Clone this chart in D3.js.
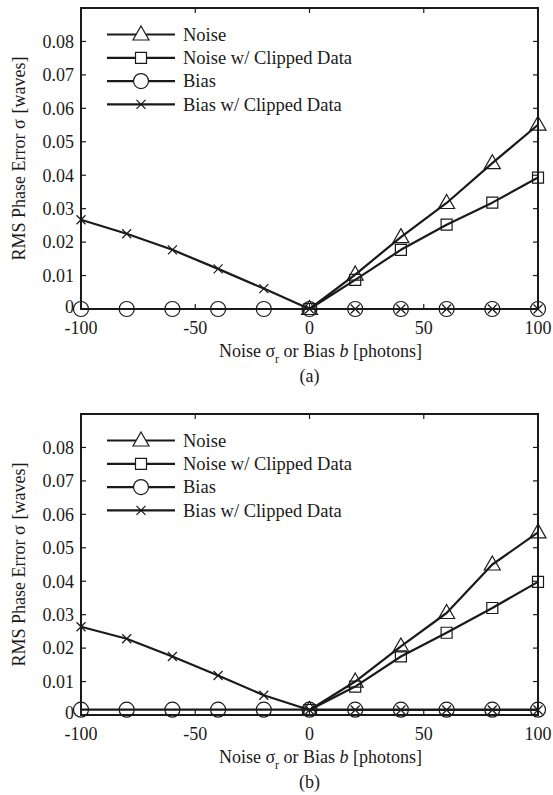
<!DOCTYPE html>
<meta charset="utf-8">
<head>
  <script src="https://cdn.jsdelivr.net/npm/d3@7"></script>
  <style>
    body { margin: 0; background: #fff; }
    svg text { font-family: "Liberation Serif", "Times New Roman", serif; fill: #1a1a1a; }
  </style>
</head>
<body>
<div id="viz"></div>
<script>
// x positions shared by every series
var xValues = [-100, -80, -60, -40, -20, 0, 20, 40, 60, 80, 100];
var xPositive = [0, 20, 40, 60, 80, 100];

// panel (a)
var noiseA = [0, 0.0103, 0.0215, 0.0317, 0.0436, 0.0551];
var noiseClipA = [0, 0.0087, 0.0177, 0.0252, 0.0318, 0.0393];
var biasA = [0, 0, 0, 0, 0, 0, 0, 0, 0, 0, 0];
var biasClipA = [0.0267, 0.0225, 0.0177, 0.0120, 0.0061, 0, 0, 0, 0, 0, 0];

// panel (b)
var noiseB = [0.0015, 0.0100, 0.0205, 0.0305, 0.0450, 0.0546];
var noiseClipB = [0.0015, 0.0085, 0.0175, 0.0246, 0.0320, 0.0398];
var biasB = [0.0016, 0.0016, 0.0016, 0.0016, 0.0016, 0.0016, 0.0016, 0.0016, 0.0016, 0.0016, 0.0016];
var biasClipB = [0.0264, 0.0228, 0.0175, 0.0118, 0.0059, 0.0015, 0.0015, 0.0015, 0.0015, 0.0015, 0.0015];

var seriesNames = ["Noise", "Noise w/ Clipped Data", "Bias", "Bias w/ Clipped Data"];
var markers = ["triangle", "square", "circle", "cross"];
var yTicks = [0, 0.01, 0.02, 0.03, 0.04, 0.05, 0.06, 0.07, 0.08];
var xTicks = [-100, -50, 0, 50, 100];

var config = { width: 553, height: 795 };
var ink = "#1a1a1a";

var svg = d3.select("#viz").append("svg")
  .attr("width", config.width)
  .attr("height", config.height);

// marker shapes drawn around (0,0)
function markerPath(type) {
  if (type == "triangle") return "M0,-8.5L8,5.5L-8,5.5Z";
  if (type == "square") return "M-5.5,-5.5H5.5V5.5H-5.5Z";
  if (type == "circle") return "M7.5,0A7.5,7.5 0 1,1 -7.5,0A7.5,7.5 0 1,1 7.5,0Z";
  return "M-4.5,-4.5L4.5,4.5M-4.5,4.5L4.5,-4.5";
}

function drawPanel(top, bottom, series, tag) {
  var g = svg.append("g");

  var x = d3.scaleLinear().domain([-100, 100]).range([81, 538]);
  var y = d3.scaleLinear().domain([0, 0.09]).range([bottom, top]);

  // ticks, pointing inwards on all four sides
  var tl = 5;
  yTicks.forEach(function(t) {
    if (t == 0) return;
    g.append("line").attr("x1", x(-100)).attr("x2", x(-100) + tl)
      .attr("y1", y(t)).attr("y2", y(t)).attr("stroke", ink).attr("stroke-width", 1.2);
    g.append("line").attr("x1", x(100)).attr("x2", x(100) - tl)
      .attr("y1", y(t)).attr("y2", y(t)).attr("stroke", ink).attr("stroke-width", 1.2);
  });
  xTicks.forEach(function(t) {
    if (t == -100 || t == 100) return;
    g.append("line").attr("x1", x(t)).attr("x2", x(t))
      .attr("y1", y(0.09)).attr("y2", y(0.09) + tl).attr("stroke", ink).attr("stroke-width", 1.2);
    g.append("line").attr("x1", x(t)).attr("x2", x(t))
      .attr("y1", y(0)).attr("y2", y(0) - tl).attr("stroke", ink).attr("stroke-width", 1.2);
  });

  // tick labels ("0" nudged up so it clears "-100")
  g.selectAll(".ylab").data(yTicks).enter().append("text")
    .attr("x", 74).attr("y", function(d) { return y(d); })
    .attr("dy", function(d) { return d == 0 ? "0.22em" : "0.35em"; })
    .attr("text-anchor", "end")
    .attr("font-size", 18)
    .text(function(d) { return d == 0 ? "0" : d3.format(".2f")(d); });

  g.selectAll(".xlab").data(xTicks).enter().append("text")
    .attr("x", function(d) { return x(d); }).attr("y", bottom + 25)
    .attr("text-anchor", "middle").attr("font-size", 18)
    .text(function(d) { return d; });

  // plot frame
  g.append("rect").attr("x", x(-100)).attr("y", y(0.09))
    .attr("width", x(100) - x(-100)).attr("height", y(0) - y(0.09))
    .attr("fill", "none").attr("stroke", ink).attr("stroke-width", 2);

  // series lines and markers
  var line = d3.line().x(function(d) { return x(d[0]); }).y(function(d) { return y(d[1]); });
  series.forEach(function(s, i) {
    var pts = s.xs.map(function(v, j) { return [v, s.ys[j]]; });
    g.append("path").datum(pts).attr("d", line)
      .attr("fill", "none").attr("stroke", ink).attr("stroke-width", 2.2)
      .attr("stroke-linejoin", "round");
    g.selectAll(".m" + i).data(pts).enter().append("path")
      .attr("transform", function(d) { return "translate(" + x(d[0]) + "," + y(d[1]) + ")"; })
      .attr("d", markerPath(markers[i]))
      .attr("fill", "none").attr("stroke", ink).attr("stroke-width", 1.2);
  });

  // legend
  seriesNames.forEach(function(name, i) {
    var ly = top + 26.5 + 23.3 * i;
    g.append("line").attr("x1", 107).attr("x2", 175).attr("y1", ly).attr("y2", ly)
      .attr("stroke", ink).attr("stroke-width", 2.2);
    g.append("path").attr("transform", "translate(141," + ly + ")")
      .attr("d", markerPath(markers[i]))
      .attr("fill", "#fff").attr("stroke", ink).attr("stroke-width", 1.2);
    g.append("text").attr("x", 183).attr("y", ly).attr("dy", "0.33em")
      .attr("font-size", 18.5).text(name);
  });

  // x axis title with subscript and italic b
  var xt = g.append("text").attr("x", x(0) + 11).attr("y", bottom + 48)
    .attr("text-anchor", "middle").attr("font-size", 18);
  xt.append("tspan").text("Noise σ");
  xt.append("tspan").attr("dy", 6).attr("font-size", 12).text("r");
  xt.append("tspan").attr("dy", -6).text(" or Bias ");
  xt.append("tspan").attr("font-style", "italic").text("b");
  xt.append("tspan").text(" [photons]");

  g.append("text").attr("x", x(0)).attr("y", bottom + 73)
    .attr("text-anchor", "middle").attr("font-size", 18).text(tag);

  // y axis title
  var yt = g.append("text")
    .attr("transform", "translate(19," + ((top + bottom) / 2) + ") rotate(-90)")
    .attr("text-anchor", "middle").attr("dy", "0.35em").attr("font-size", 18);
  yt.append("tspan").text("RMS Phase Error σ");
  yt.append("tspan").attr("dx", 6).text("[waves]");
}

drawPanel(8, 309, [
  { xs: xPositive, ys: noiseA },
  { xs: xPositive, ys: noiseClipA },
  { xs: xValues, ys: biasA },
  { xs: xValues, ys: biasClipA }
], "(a)");

drawPanel(414, 715, [
  { xs: xPositive, ys: noiseB },
  { xs: xPositive, ys: noiseClipB },
  { xs: xValues, ys: biasB },
  { xs: xValues, ys: biasClipB }
], "(b)");
</script>
</body>
